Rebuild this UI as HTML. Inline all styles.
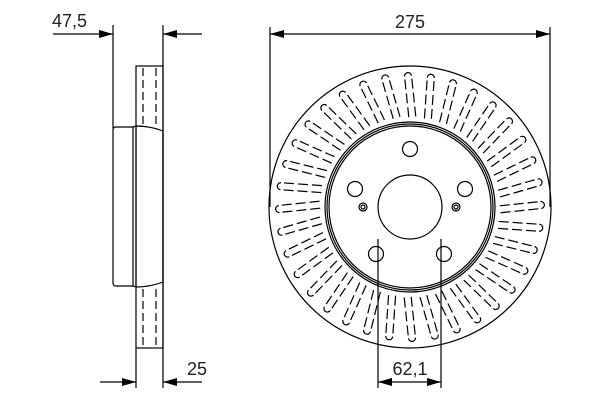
<!DOCTYPE html>
<html><head><style>html,body{margin:0;padding:0;background:#fff}svg{display:block}text{font-family:"Liberation Sans",sans-serif;font-size:18px;fill:#222}</style></head>
<body>
<svg width="600" height="400" viewBox="0 0 600 400" xmlns="http://www.w3.org/2000/svg">
<defs>
<marker id="a" viewBox="0 0 14 8" refX="14" refY="4" markerWidth="14" markerHeight="8" markerUnits="userSpaceOnUse" orient="auto"><path d="M0,0 L14,4 L0,8 Z" fill="#000"/></marker>
<g id="s" fill="none" stroke="#000" stroke-width="1.2" transform="rotate(-6 410 95)">
<path d="M406.5,117 L406.5,76" stroke-dasharray="10,4"/>
<path d="M413.5,117 L413.5,76" stroke-dasharray="10,4"/>
<path d="M406.5,76 A3.5,3.5 0 0 1 413.5,76"/>
</g>
</defs>
<g stroke="#000" fill="none" stroke-width="1.2">
<line x1="113" y1="25" x2="113" y2="128"/>
<line x1="163" y1="25" x2="163" y2="388"/>
<line x1="136" y1="348" x2="136" y2="388"/>
<line x1="53" y1="34" x2="113" y2="34" marker-end="url(#a)"/>
<line x1="202" y1="34" x2="163" y2="34" marker-end="url(#a)"/>
<line x1="100" y1="382" x2="136" y2="382" marker-end="url(#a)"/>
<line x1="202" y1="382" x2="163" y2="382" marker-end="url(#a)"/>
<rect x="136" y="66" width="27" height="282"/>
<path d="M115,127 L133,127 L133,286 L116,286 Q113,286 113,283 L113,130 Q113,127 116,127"/>
<path d="M133,127 L136,126 Q150,126 163,131 L163,282 Q150,287 136,287 L133,286"/>
<line x1="136" y1="126" x2="136" y2="287"/>
<path d="M143,68 V124 M156,68 V124 M143,289 V346 M156,289 V346" stroke-dasharray="8,4"/>
<line x1="270" y1="27" x2="270" y2="207"/>
<line x1="550" y1="27" x2="550" y2="207"/>
<line x1="290" y1="34" x2="270" y2="34" marker-end="url(#a)"/>
<line x1="290" y1="34" x2="550" y2="34" marker-end="url(#a)"/>
<line x1="410" y1="382" x2="378" y2="382" marker-end="url(#a)"/>
<line x1="410" y1="382" x2="441" y2="382" marker-end="url(#a)"/>
<circle cx="410" cy="207" r="141"/>
<circle cx="410" cy="207" r="85"/>
<circle cx="410" cy="207" r="83"/>
<circle cx="410" cy="207" r="81"/>
<circle cx="410" cy="207" r="32" fill="#fff"/>
<circle cx="410" cy="149" r="7.5"/>
<circle cx="355" cy="189" r="7.5"/>
<circle cx="465" cy="189" r="7.5"/>
<circle cx="376" cy="254" r="7.5"/>
<circle cx="444" cy="254" r="7.5"/>
<circle cx="363" cy="207" r="4"/><circle cx="363" cy="207" r="2"/>
<circle cx="456" cy="207" r="4"/><circle cx="456" cy="207" r="2"/>
</g>
<g>
<use href="#s" transform="rotate(0 410 207)"/><use href="#s" transform="rotate(10 410 207)"/><use href="#s" transform="rotate(20 410 207)"/><use href="#s" transform="rotate(30 410 207)"/><use href="#s" transform="rotate(40 410 207)"/><use href="#s" transform="rotate(50 410 207)"/><use href="#s" transform="rotate(60 410 207)"/><use href="#s" transform="rotate(70 410 207)"/><use href="#s" transform="rotate(80 410 207)"/>
<use href="#s" transform="rotate(90 410 207)"/><use href="#s" transform="rotate(100 410 207)"/><use href="#s" transform="rotate(110 410 207)"/><use href="#s" transform="rotate(120 410 207)"/><use href="#s" transform="rotate(130 410 207)"/><use href="#s" transform="rotate(140 410 207)"/><use href="#s" transform="rotate(150 410 207)"/><use href="#s" transform="rotate(160 410 207)"/><use href="#s" transform="rotate(170 410 207)"/>
<use href="#s" transform="rotate(180 410 207)"/><use href="#s" transform="rotate(190 410 207)"/><use href="#s" transform="rotate(200 410 207)"/><use href="#s" transform="rotate(210 410 207)"/><use href="#s" transform="rotate(220 410 207)"/><use href="#s" transform="rotate(230 410 207)"/><use href="#s" transform="rotate(240 410 207)"/><use href="#s" transform="rotate(250 410 207)"/><use href="#s" transform="rotate(260 410 207)"/>
<use href="#s" transform="rotate(270 410 207)"/><use href="#s" transform="rotate(280 410 207)"/><use href="#s" transform="rotate(290 410 207)"/><use href="#s" transform="rotate(300 410 207)"/><use href="#s" transform="rotate(310 410 207)"/><use href="#s" transform="rotate(320 410 207)"/><use href="#s" transform="rotate(330 410 207)"/><use href="#s" transform="rotate(340 410 207)"/><use href="#s" transform="rotate(350 410 207)"/>
</g>
<g stroke="#000" fill="none" stroke-width="1.2">
<line x1="378" y1="239" x2="378" y2="388"/>
<line x1="441" y1="239" x2="441" y2="388"/>
</g>
<text x="52" y="27">47,5</text>
<text x="187" y="375">25</text>
<text x="410" y="28" text-anchor="middle">275</text>
<text x="410" y="375" text-anchor="middle">62,1</text>
</svg>
</body></html>
